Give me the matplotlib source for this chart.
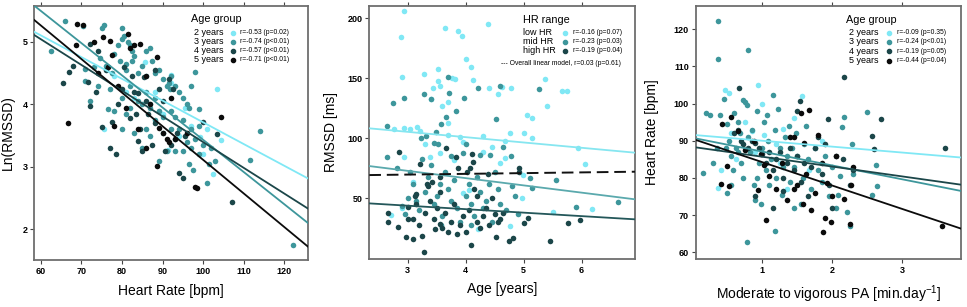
import numpy as np
import matplotlib
matplotlib.use("Agg")
import matplotlib.pyplot as plt

plt.rcParams['font.family'] = ['Liberation Sans', 'DejaVu Sans']
plt.rcParams['mathtext.default'] = 'regular'

# Colours of the groups
c_light = '#80e8f5'
c_mid = '#3d969b'
c_dark = '#1b4649'
c_black = '#0b0b0b'

# ---------------- Panel 1 : Ln(RMSSD) vs Heart Rate, by age group ----------------
p1_2y = np.array([(75.5, 3.6), (78, 4.45), (81, 4.2), (85.7, 4.68), (86, 4.45), (88, 4.2),
                  (89, 3.9), (90, 3.85), (92, 4.47), (92, 4.35), (91.4, 3.27), (94, 3.5),
                  (95.5, 3.95), (97, 3.65), (99.2, 3.48), (100, 3.2), (101, 3.6), (102.5, 2.88),
                  (103.3, 4.24), (104.5, 3.43), (87, 4.0), (83, 4.1)])
p1_3y = np.array([(62.5, 4.85), (66, 5.33), (70.5, 5.25), (75.5, 5.27), (75, 5.22), (80, 5.23),
                  (71, 4.57), (72, 4.06), (71, 4.37), (74, 4.3), (74.5, 4.75), (76.5, 3.93),
                  (77, 4.25), (76, 4.62), (78, 4.8), (79, 4.95), (80, 5.05), (80.5, 5.1),
                  (79.5, 4.7), (81, 4.55), (82, 4.3), (82.5, 4.7), (83, 4.78), (84, 4.5),
                  (85, 4.62), (86, 4.85), (87, 4.9), (87.5, 4.7), (88, 4.5), (89, 4.55),
                  (90, 4.4), (91, 4.3), (92, 4.45), (93, 4.3), (94, 4.2), (95, 4.1),
                  (96, 4.0), (97, 4.3), (98, 4.52), (99, 3.93), (97, 3.6), (96.5, 3.95),
                  (94, 3.6), (95, 3.25), (96.5, 3.05), (97.5, 2.95), (99, 3.2), (100, 3.35),
                  (101, 2.75), (101.5, 3.05), (102, 3.3), (111.5, 3.11), (114, 3.58), (122, 1.75),
                  (88, 3.75), (86, 3.6), (85, 3.3), (90, 3.8), (92, 3.6), (93, 3.45),
                  (91, 3.25), (89, 3.1), (87, 3.5), (83, 3.55), (82, 3.95), (81, 3.85),
                  (80, 3.6), (78, 3.9), (80, 4.1), (85, 4.0), (86, 4.2), (88, 4.1),
                  (89, 3.9), (84, 4.05), (87, 3.95), (92, 3.9), (93, 3.8), (95, 3.75),
                  (98, 3.45), (99, 3.65), (103, 3.1), (96, 3.4), (97, 3.3), (93, 3.25),
                  (90, 3.55), (81, 4.65), (82.5, 4.85), (77.5, 4.5), (73, 4.6), (81.5, 5.0),
                  (82, 4.95), (91.5, 4.35), (91.8, 4.25)])
p1_4y = np.array([(65.5, 4.35), (67, 4.52), (68, 4.62), (72, 4.97), (74, 4.85), (73.5, 4.2),
                  (71.5, 4.36), (72, 3.98), (75, 3.64), (77, 3.3), (78.5, 3.2), (77.5, 3.72),
                  (79, 4.0), (80.5, 4.6), (82.5, 4.45), (83, 4.2), (84, 4.18), (85.5, 4.44),
                  (86, 4.05), (83.5, 3.85), (84, 3.42), (87.5, 3.35), (88, 3.7), (89, 4.25),
                  (90, 4.05), (90.5, 3.25), (91.5, 4.4), (92.5, 4.25), (94, 2.9), (95, 2.83),
                  (95.5, 3.5), (100, 3.72), (103.5, 3.53), (107, 2.44), (86.5, 3.85), (82, 3.78),
                  (85, 3.25), (92, 3.35), (93.5, 3.55), (76, 4.55), (80, 4.25), (88, 4.55),
                  (84.5, 3.6)])
p1_5y = np.array([(66.7, 3.71), (68.7, 4.95), (69, 5.29), (70.5, 5.27), (73, 5.0), (75.2, 5.08),
                  (77, 5.02), (77.6, 4.79), (76.6, 4.6), (74.1, 4.5), (78, 3.65), (81.5, 5.12),
                  (83, 4.95), (84.5, 4.97), (82, 4.9), (84, 3.6), (86, 3.3), (88.5, 4.76),
                  (88.5, 3.02), (89, 3.62), (90, 3.55), (91, 3.45), (91.5, 3.4), (92, 4.1),
                  (98, 2.68), (98.5, 2.66), (104.5, 3.8), (79, 4.3), (81, 3.95), (86, 4.45),
                  (87, 4.0), (96, 3.55), (93, 3.45)])
p1_fit_intercept = [7.193, 8.593, 7.516, 8.492]
p1_fit_slope = [-0.0348, -0.0516, -0.0412, -0.0538]
p1_r_text = ['r=-0.53 (p=0.02)', 'r=-0.74 (p<0.01)', 'r=-0.57 (p<0.01)', 'r=-0.71 (p<0.01)']

# ---------------- Panel 2 : RMSSD vs Age, by HR range ----------------
p2_low = np.array([(2.93, 206), (2.88, 184.7), (2.91, 151.4), (3.29, 153.6), (3.53, 157.8),
                   (3.52, 147.8), (3.64, 191.7), (3.87, 189.7), (3.93, 185.6), (4.0, 166),
                   (4.39, 195.3), (4.10, 159.7), (4.13, 148.6), (3.76, 150), (3.82, 149.4),
                   (3.59, 127), (3.70, 130), (3.43, 142.2), (3.56, 143.6), (3.41, 132.8),
                   (4.41, 141.7), (4.56, 136.7), (4.62, 142.5), (4.78, 142.2), (5.37, 149.2),
                   (5.40, 127), (5.66, 139.7), (5.75, 139.7), (5.05, 119.4), (5.14, 116.7),
                   (5.15, 100), (5.0, 104.7), (4.76, 104.7), (4.68, 98), (4.30, 102),
                   (3.96, 97.2), (3.16, 109.7), (2.93, 108.3), (2.93, 84.7), (3.22, 106),
                   (3.70, 112.5), (3.70, 102.8), (3.90, 101), (5.94, 91.7), (6.06, 78.3),
                   (6.17, 40.8), (5.51, 38.9), (4.76, 27), (4.97, 50), (4.99, 69.4),
                   (4.59, 79.2), (4.68, 83.9), (4.30, 89), (2.72, 36.1), (2.90, 41.7),
                   (3.96, 54.7), (4.22, 24.2), (3.39, 84.7), (3.55, 88), (3.10, 64),
                   (3.30, 95), (4.05, 57), (4.45, 93), (3.8, 82), (3.05, 108), (2.77, 108)])
p2_mid = np.array([(2.65, 110.6), (2.74, 129.2), (2.94, 133.9), (3.28, 136.7), (3.40, 132.5),
                   (3.69, 151.1), (3.71, 138), (3.83, 123), (3.97, 133.9), (4.22, 141.7),
                   (4.59, 143.6), (5.26, 140.8), (4.52, 116.1), (3.57, 112), (3.67, 117.5),
                   (3.23, 100), (3.32, 101.9), (3.52, 95.3), (3.49, 105.3), (4.64, 92.8),
                   (4.42, 86.1), (4.78, 85.6), (2.65, 84.2), (2.81, 75), (5.56, 65.3),
                   (5.15, 58.3), (5.11, 66.7), (5.90, 43), (6.63, 47.2), (4.85, 52),
                   (3.05, 72), (3.1, 62), (3.15, 48), (3.2, 40), (3.3, 55), (3.35, 68),
                   (3.4, 78), (3.45, 45), (3.5, 52), (3.55, 62), (3.6, 35), (3.65, 72),
                   (3.7, 58), (3.75, 48), (3.8, 65), (3.85, 42), (3.9, 30), (3.95, 88),
                   (4.0, 52), (4.05, 62), (4.1, 45), (4.15, 35), (4.2, 68), (4.25, 55),
                   (4.3, 42), (4.35, 48), (4.4, 62), (4.45, 30), (4.5, 72), (4.55, 58),
                   (4.6, 45), (4.7, 40), (4.8, 60), (4.9, 37), (3.0, 50), (2.9, 44),
                   (3.25, 83), (3.45, 96), (3.75, 85), (4.0, 95), (4.25, 86), (3.58, 28),
                   (4.1, 28), (2.95, 37)])
p2_high = np.array([(2.67, 37.5), (2.67, 30.6), (2.84, 26.4), (2.86, 88.6), (2.97, 18),
                    (3.09, 15.8), (3.01, 32.5), (3.0, 43), (3.15, 53.3), (3.21, 78.6),
                    (3.28, 5.6), (3.25, 18.6), (3.33, 61.7), (3.47, 24.2), (3.55, 29),
                    (3.66, 91.7), (3.83, 84.2), (3.87, 75.6), (4.02, 71.7), (4.07, 75.6),
                    (4.12, 80), (4.11, 86.7), (4.09, 11.1), (4.39, 70), (4.74, 14.7),
                    (4.82, 16.7), (5.0, 29.7), (5.08, 33.3), (5.45, 14.7), (5.77, 29.7),
                    (5.97, 32), (4.92, 75.6), (4.92, 71.7), (4.52, 18), (3.1, 33),
                    (3.15, 45), (3.2, 28), (3.3, 38), (3.38, 48), (3.45, 33), (3.5, 42),
                    (3.55, 55), (3.6, 25), (3.65, 38), (3.7, 22), (3.75, 30), (3.8, 45),
                    (3.85, 20), (3.9, 28), (3.95, 35), (4.0, 22), (4.05, 40), (4.15, 58),
                    (4.2, 30), (4.25, 25), (4.3, 35), (4.35, 42), (4.4, 28), (4.45, 50),
                    (4.5, 37), (4.55, 30), (4.6, 33), (4.65, 38), (3.55, 68), (3.42, 64),
                    (3.12, 52), (3.35, 60), (4.2, 52)])
p2_fit_intercept = [118.7, 91.06, 52.6]
p2_fit_slope = [-4.43, -6.05, -2.90]
p2_overall_intercept = 67.97
p2_overall_slope = 0.611
p2_labels = ['low HR', 'mid HR', 'high HR']
p2_r_text = ['r=-0.16 (p=0.07)', 'r=-0.23 (p=0.03)', 'r=-0.19 (p=0.04)']

# ---------------- Panel 3 : Heart Rate vs MVPA, by age group ----------------
p3_2y = np.array([(0.37, 77.3), (0.41, 82.1), (0.47, 103.6), (0.53, 102.8), (0.94, 105),
                  (1.56, 101.9), (1.30, 93.1), (0.55, 92.2), (0.75, 95), (1.03, 91.5),
                  (1.2, 89), (0.9, 87), (1.35, 77), (1.67, 82), (0.62, 85), (1.0, 100),
                  (1.85, 90), (1.25, 84), (0.85, 92.5), (1.45, 96)])
p3_3y = np.array([(0.37, 122.1), (0.37, 112), (0.8, 114.5), (0.2, 97.4), (0.78, 62.7),
                  (1.18, 65.8), (2.49, 97.8), (2.16, 96.5), (2.14, 93.6), (2.62, 83.4),
                  (2.63, 77.9), (2.57, 75.5), (2.28, 89.1), (2.11, 80.6), (2.21, 70.7),
                  (2.25, 67), (0.15, 81.2), (0.3, 84), (0.35, 88), (0.4, 97), (0.45, 101.2),
                  (0.5, 94.5), (0.52, 90), (0.55, 86), (0.5, 76), (0.55, 78), (0.6, 97.5),
                  (0.62, 88), (0.65, 95), (0.68, 92), (0.7, 84), (0.72, 80), (0.75, 100.5),
                  (0.78, 99.5), (0.8, 91), (0.82, 87), (0.85, 93), (0.88, 78), (0.9, 74),
                  (0.92, 98), (0.95, 84), (0.98, 73), (1.0, 88), (1.02, 95), (1.05, 82),
                  (1.08, 90), (1.1, 78), (1.12, 85), (1.15, 102.3), (1.18, 93), (1.2, 80),
                  (1.22, 98.5), (1.25, 88), (1.28, 75.5), (1.3, 83), (1.32, 91), (1.35, 86),
                  (1.38, 94), (1.4, 79), (1.42, 88), (1.45, 83), (1.48, 92), (1.5, 86),
                  (1.55, 73), (1.58, 80), (1.6, 89), (1.65, 85), (1.7, 77), (1.75, 88),
                  (1.8, 82), (1.85, 79), (1.9, 86), (1.95, 75), (2.0, 83), (0.65, 87),
                  (0.72, 101), (0.58, 82), (0.25, 97), (0.48, 88), (1.07, 97), (0.93, 80),
                  (1.45, 72), (2.05, 72), (2.3, 81), (2.08, 75.5), (1.62, 94)])
p3_4y = np.array([(0.67, 104.1), (2.17, 107), (2.69, 95.7), (2.57, 91.3), (2.60, 87.8),
                  (3.6, 88), (1.94, 95.8), (1.54, 100.6), (1.9, 89), (0.6, 92), (0.65, 93),
                  (0.7, 90), (0.72, 89), (0.8, 88), (0.85, 90), (0.9, 89.5), (0.95, 88),
                  (1.0, 86.5), (1.05, 84), (1.1, 87), (1.15, 82), (1.2, 85), (1.25, 87),
                  (1.3, 80), (1.35, 84), (1.4, 88), (1.45, 82), (1.5, 86), (1.55, 79),
                  (1.6, 84), (1.65, 75), (1.7, 83), (1.75, 88), (1.8, 91), (1.85, 81),
                  (1.95, 78), (2.05, 86), (2.15, 85), (2.25, 78), (2.3, 82), (0.9, 75),
                  (1.15, 72), (1.3, 76.5), (1.5, 98), (2.0, 72)])
p3_5y = np.array([(1.87, 65.5), (1.90, 69.3), (1.98, 68.2), (2.25, 67.7), (2.17, 74.2),
                  (2.26, 78.2), (1.66, 98.3), (1.93, 78.6), (1.45, 77), (1.05, 68.7),
                  (0.94, 76.8), (0.5, 83.1), (0.43, 94.4), (0.41, 78.3), (0.53, 77.7),
                  (2.29, 82.8), (3.56, 67), (0.55, 96.5), (0.65, 92.5), (0.75, 87.5),
                  (0.88, 90), (0.98, 86.5), (1.02, 83.5), (1.1, 80.5), (1.2, 77), (1.28, 84),
                  (1.35, 74), (1.4, 91), (1.5, 78), (1.55, 97.5), (1.58, 73), (1.62, 81),
                  (1.7, 71.5), (1.75, 76), (1.8, 91.5), (1.85, 84), (2.0, 75), (2.05, 86),
                  (1.45, 91), (1.6, 89.5)])
p3_fit_intercept = [91.58, 90.8, 88.34, 90.53]
p3_fit_slope = [-1.59, -3.73, -2.65, -6.30]
p3_r_text = ['r=-0.09 (p=0.35)', 'r=-0.24 (p<0.01)', 'r=-0.19 (p=0.05)', 'r=-0.44 (p=0.04)']

age_labels = ['2 years', '3 years', '4 years', '5 years']
age_colors = [c_light, c_mid, c_dark, c_black]
hr_colors = [c_light, c_mid, c_dark]

fig = plt.figure(figsize=(9.67, 3.07), dpi=100)
ax1 = fig.add_axes([0.0355, 0.1531, 0.2834, 0.8283])
ax2 = fig.add_axes([0.3819, 0.1564, 0.2748, 0.8251])
ax3 = fig.add_axes([0.7197, 0.1564, 0.2737, 0.8251])

MS = 16


def style_axes(ax):
    for sp in ax.spines.values():
        sp.set_color('#6e6e6e')
        sp.set_linewidth(1.3)
    ax.tick_params(axis='both', which='major', direction='out', length=3,
                   width=0.8, color='#444444', labelsize=6.5, pad=2)
    ax.tick_params(axis='x', top=True)
    for lab in ax.get_xticklabels() + ax.get_yticklabels():
        lab.set_fontweight('bold')


def legend_block(ax, title, labels, colors, rtexts, x_title, x_lab, x_mark, x_r, y_title, ys):
    ax.text(x_title, y_title, title, transform=ax.transAxes, fontsize=7.8,
            ha='left', va='center')
    for lab, col, rt, y in zip(labels, colors, rtexts, ys):
        ax.text(x_lab, y, lab, transform=ax.transAxes, fontsize=6.5, ha='left', va='center')
        ax.plot([x_mark], [y], 'o', color=col, ms=3, transform=ax.transAxes, clip_on=False)
        ax.text(x_r, y, rt, transform=ax.transAxes, fontsize=4.9, ha='left', va='center')


# Panel 1
for pts, col in zip([p1_2y, p1_3y, p1_4y, p1_5y], age_colors):
    ax1.scatter(pts[:, 0], pts[:, 1], s=MS, color=col, linewidths=0, zorder=2)
for b, m, col in zip(p1_fit_intercept, p1_fit_slope, age_colors):
    ax1.axline((0, b), slope=m, color=col, lw=1.3, zorder=3)
ax1.set_xlim(58.4, 125.9)
ax1.set_ylim(1.51, 5.58)
ax1.set_xticks(np.arange(60, 121, 10))
ax1.set_yticks([2, 3, 4, 5])
ax1.set_xlabel('Heart Rate [bpm]', fontsize=10)
ax1.set_ylabel('Ln(RMSSD)', fontsize=10)
ax1.yaxis.set_label_coords(-0.072, 0.5)
ax1.xaxis.set_label_coords(0.5, -0.095)
style_axes(ax1)
legend_block(ax1, 'Age group', age_labels, age_colors, p1_r_text,
             0.572, 0.584, 0.726, 0.751, 0.948, [0.894, 0.858, 0.823, 0.787])

# Panel 2
for pts, col in zip([p2_low, p2_mid, p2_high], hr_colors):
    ax2.scatter(pts[:, 0], pts[:, 1], s=MS, color=col, linewidths=0, zorder=2)
for b, m, col in zip(p2_fit_intercept, p2_fit_slope, ['#86e6f0', '#5aa9ad', '#24575a']):
    ax2.axline((0, b), slope=m, color=col, lw=1.3, zorder=3)
ax2.axline((0, p2_overall_intercept), slope=p2_overall_slope, color='#111111',
           lw=1.4, ls=(0, (6, 3)), zorder=3)
ax2.set_xlim(2.34, 6.92)
ax2.set_ylim(-0.5, 210.5)
ax2.set_xticks([3, 4, 5, 6])
ax2.set_yticks([50, 100, 150, 200])
ax2.set_xlabel('Age [years]', fontsize=10)
ax2.set_ylabel('RMSSD [ms]', fontsize=10)
ax2.yaxis.set_label_coords(-0.118, 0.5)
ax2.xaxis.set_label_coords(0.5, -0.09)
style_axes(ax2)
legend_block(ax2, 'HR range', p2_labels, hr_colors, p2_r_text,
             0.580, 0.577, 0.737, 0.765, 0.944, [0.893, 0.858, 0.822])
ax2.text(0.494, 0.773, '--- Overall linear model, r=0.03 (p=0.61)', transform=ax2.transAxes,
         fontsize=4.9, ha='left', va='center')

# Panel 3
for pts, col in zip([p3_2y, p3_3y, p3_4y, p3_5y], age_colors):
    ax3.scatter(pts[:, 0], pts[:, 1], s=MS, color=col, linewidths=0, zorder=2)
for b, m, col in zip(p3_fit_intercept, p3_fit_slope, age_colors):
    ax3.axline((0, b), slope=m, color=col, lw=1.3, zorder=3)
ax3.set_xlim(0.053, 3.83)
ax3.set_ylim(58.2, 126.3)
ax3.set_xticks([1, 2, 3])
ax3.set_yticks(np.arange(60, 121, 10))
ax3.set_xlabel('Moderate to vigorous PA [min.day$^{-1}$]', fontsize=10)
ax3.set_ylabel('Heart Rate [bpm]', fontsize=10)
ax3.yaxis.set_label_coords(-0.14, 0.5)
ax3.xaxis.set_label_coords(0.5, -0.095)
style_axes(ax3)
legend_block(ax3, 'Age group', age_labels, age_colors, p3_r_text,
             0.566, 0.579, 0.730, 0.758, 0.944, [0.893, 0.857, 0.820, 0.783])

fig.savefig('out.png', dpi=100)
